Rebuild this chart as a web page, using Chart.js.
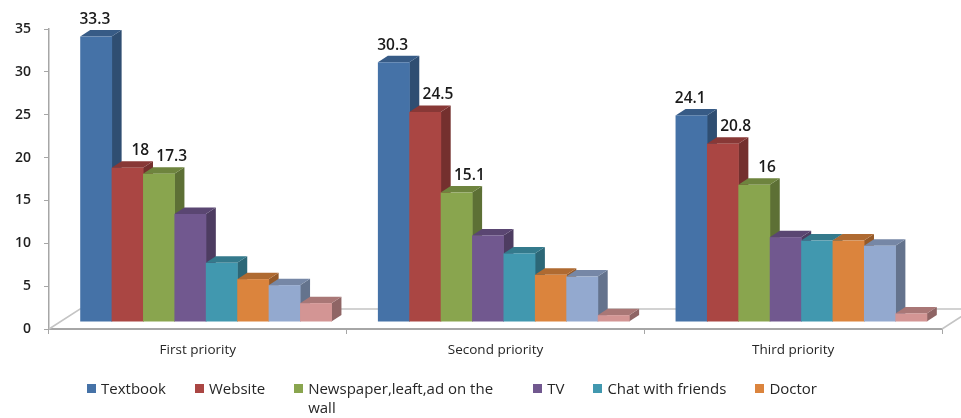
<!DOCTYPE html>
<html>
<head>
<meta charset="utf-8">
<script src="https://cdn.jsdelivr.net/npm/chart.js@4/dist/chart.umd.min.js"></script>
<style>
  html, body { margin: 0; padding: 0; background: #fff; overflow: hidden; }
  #wrap { position: relative; width: 961px; height: 418px; }
  #chart { position: absolute; left: 0; top: 0; }
  #legend {
    position: absolute; left: 87px; top: 379px; width: 790px; height: 39px;
    overflow: hidden; display: flex; flex-wrap: wrap; align-items: flex-start;
    font-family: 'Open Sans', sans-serif; font-size: 15px; color: #262626;
  }
  .item { display: flex; align-items: flex-start; line-height: 19px; margin-right: 29px; }
  .sw { width: 9px; height: 9px; margin-top: 5px; margin-right: 5px; flex: none; }
  .txt { white-space: normal; }
</style>
</head>
<body>
<div id="wrap">
  <canvas id="chart" width="961" height="418"></canvas>
  <div id="legend"></div>
</div>
<script>
// Categories along the x axis
const categories = ['First priority', 'Second priority', 'Third priority'];

// One array per source of information (percent)
const textbook  = [33.3, 30.3, 24.1];
const website   = [18, 24.5, 20.8];
const newspaper = [17.3, 15.1, 16];
const tv        = [12.6, 10.1, 9.9];
const chat      = [6.9, 8.0, 9.5];
const doctor    = [5.0, 5.5, 9.5];
const series7   = [4.3, 5.3, 8.9];
const series8   = [2.2, 0.8, 1.0];

const seriesNames = ['Textbook', 'Website', 'Newspaper,leaft,ad on the wall', 'TV',
                     'Chat with friends', 'Doctor', 'Series7', 'Series8'];
const seriesValues = [textbook, website, newspaper, tv, chat, doctor, series7, series8];

// Value axis
const yMin = 0, yMax = 35, yStep = 5;

// Series whose values are printed above the bars
const labelledSeries = [0, 1, 2];

// Styling
const colors = ['#4572A7', '#AA4643', '#89A54E', '#71588F', '#4198AF', '#DB843D', '#93A9CF', '#D39594'];
const DEPTH = { x: 10, y: -6.5 };     // bar depth projection
const SHIFT = { x: 8, y: -7 };        // bars sit a little behind the front edge
const FLOOR = { x: 31, y: -20 };      // floor depth projection
const FONT = "'Open Sans', sans-serif";

function shade(hex, k) {
  const n = parseInt(hex.slice(1), 16);
  const r = Math.round(((n >> 16) & 255) * k);
  const g = Math.round(((n >> 8) & 255) * k);
  const b = Math.round((n & 255) * k);
  return `rgb(${r},${g},${b})`;
}

// Draws the floor, the 3D boxes and the value labels
const bars3d = {
  id: 'bars3d',
  beforeDatasetsDraw(chart) {
    const { ctx, chartArea: a } = chart;
    ctx.save();

    // floor outline
    ctx.strokeStyle = '#c4c4c4';
    ctx.lineWidth = 1.5;
    ctx.beginPath();
    ctx.moveTo(a.left, a.bottom);
    ctx.lineTo(a.left + FLOOR.x, a.bottom + FLOOR.y);
    ctx.lineTo(a.right + FLOOR.x, a.bottom + FLOOR.y);
    ctx.lineTo(a.right, a.bottom);
    ctx.stroke();

    const metas = chart.data.datasets.map((d, i) => chart.getDatasetMeta(i));
    const boxes = metas.map(() => []);

    for (let j = 0; j < categories.length; j++) {
      metas.forEach((m, i) => {
        const el = m.data[j];
        const p = el.getProps(['x', 'y', 'base', 'width'], true);
        const L = p.x - p.width / 2 + SHIFT.x, R = p.x + p.width / 2 + SHIFT.x;
        const T = p.y + SHIFT.y, B = p.base + SHIFT.y;
        const c = colors[i];
        boxes[i][j] = { L, R, T, B };

        // right side
        ctx.fillStyle = shade(c, 0.68);
        ctx.beginPath();
        ctx.moveTo(R, T); ctx.lineTo(R + DEPTH.x, T + DEPTH.y);
        ctx.lineTo(R + DEPTH.x, B + DEPTH.y); ctx.lineTo(R, B);
        ctx.closePath(); ctx.fill();

        // top
        ctx.fillStyle = shade(c, 0.8);
        ctx.beginPath();
        ctx.moveTo(L, T); ctx.lineTo(L + DEPTH.x, T + DEPTH.y);
        ctx.lineTo(R + DEPTH.x, T + DEPTH.y); ctx.lineTo(R, T);
        ctx.closePath(); ctx.fill();

        // front
        ctx.fillStyle = c;
        ctx.fillRect(L, T, R - L + 0.5, B - T);
      });
    }

    // value labels
    ctx.fillStyle = '#1a1a1a';
    ctx.font = `600 15.5px ${FONT}`;
    ctx.textAlign = 'center';
    ctx.textBaseline = 'middle';
    labelledSeries.forEach(i => {
      chart.data.datasets[i].data.forEach((v, j) => {
        const b = boxes[i][j];
        const cx = (b.L + b.R) / 2 + (i === 0 ? -1 : 13);
        ctx.fillText(String(v), cx, b.T - 17);
      });
    });

    ctx.restore();
    return false;
  }
};

const chart = new Chart(document.getElementById('chart'), {
  type: 'bar',
  data: {
    labels: categories,
    datasets: seriesValues.map((vals, i) => ({
      label: seriesNames[i],
      data: vals,
      backgroundColor: colors[i]
    }))
  },
  options: {
    responsive: false,
    animation: false,
    devicePixelRatio: 1,
    layout: { padding: { left: 0, right: 19, top: 29, bottom: 0 } },
    datasets: { bar: { barPercentage: 1, categoryPercentage: 0.844 } },
    plugins: { legend: { display: false }, tooltip: { enabled: false } },
    scales: {
      x: {
        grid: { drawOnChartArea: false, tickLength: 5, color: '#a6a6a6', lineWidth: 1 },
        border: { color: '#a6a6a6', width: 2 },
        ticks: { padding: 8, color: '#262626', font: { family: FONT, size: 13.5 } },
        afterFit(s) { s.height = 89; }
      },
      y: {
        min: yMin, max: yMax,
        grid: { drawOnChartArea: false, tickLength: 5, color: '#a6a6a6' },
        border: { color: '#a6a6a6', width: 1.5 },
        ticks: { stepSize: yStep, padding: 13, color: '#1f1f1f', font: { family: FONT, size: 14, weight: '600' } },
        afterFit(s) { s.width = 49; }
      }
    }
  },
  plugins: [bars3d]
});

// HTML legend built from the datasets; entries that do not fit on the first row are cut off
const legend = document.getElementById('legend');
chart.data.datasets.forEach((d, i) => {
  const item = document.createElement('div');
  item.className = 'item';
  const sw = document.createElement('span');
  sw.className = 'sw';
  sw.style.background = colors[i];
  const t = document.createElement('span');
  t.className = 'txt';
  t.textContent = d.label;
  if (i === 2) t.style.width = '196px';
  item.appendChild(sw); item.appendChild(t);
  legend.appendChild(item);
});
</script>
</body>
</html>
